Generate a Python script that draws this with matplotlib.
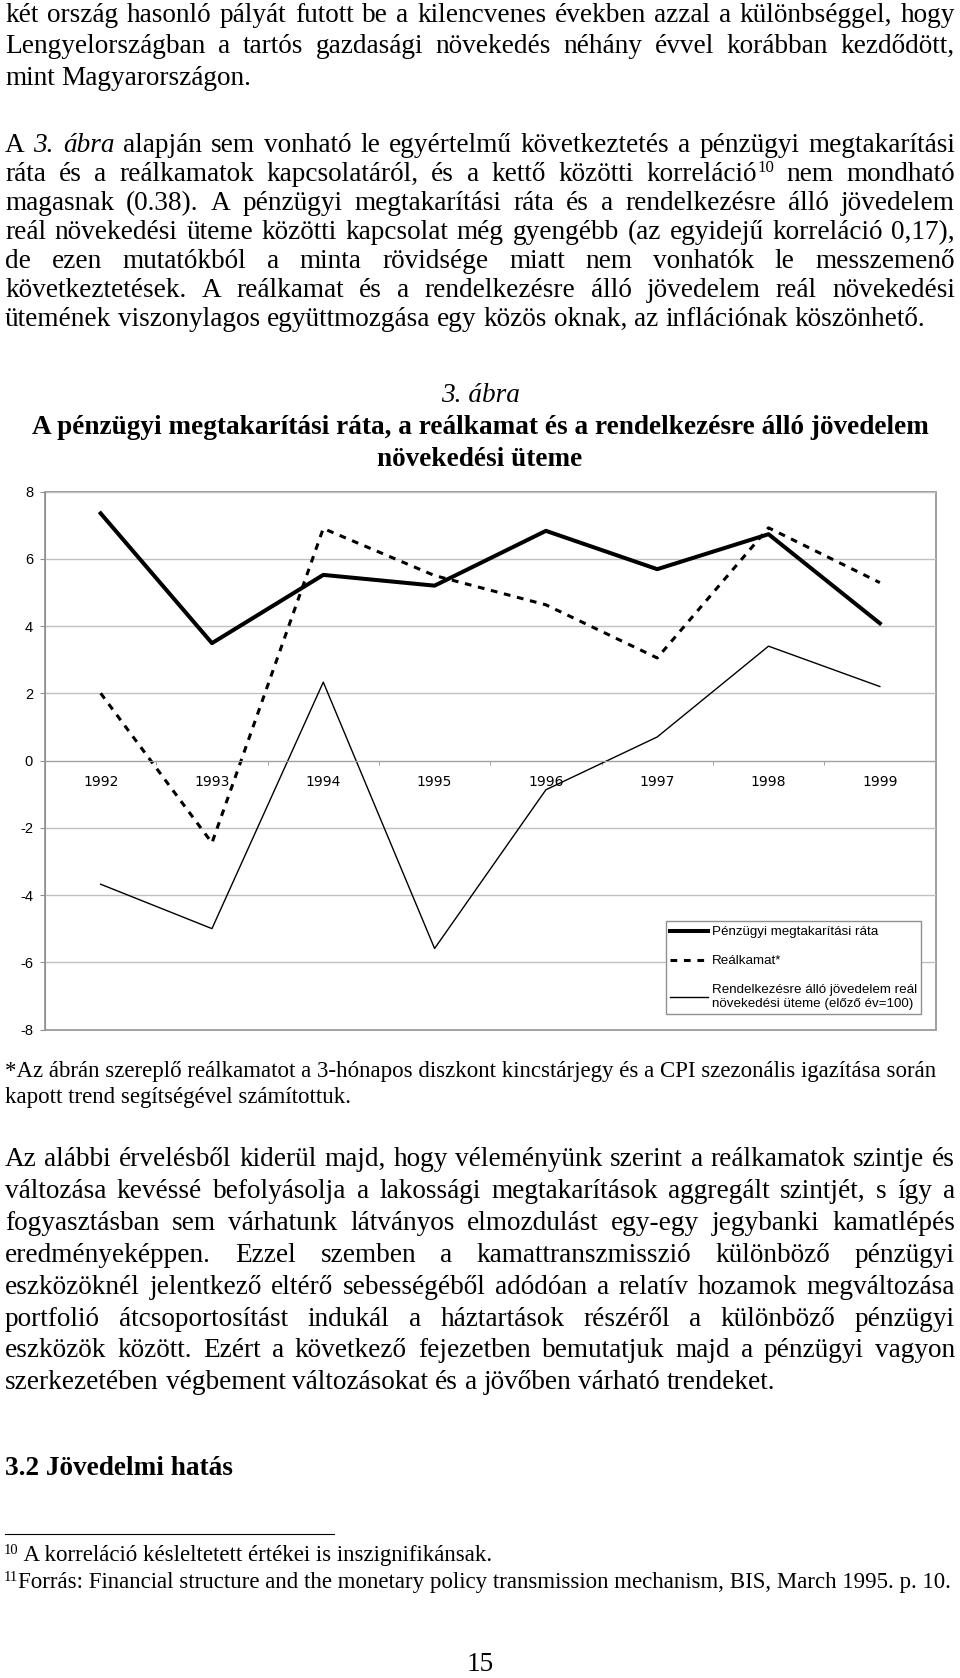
import numpy as np
import matplotlib.pyplot as plt
from matplotlib.lines import Line2D

W, H = 960, 1678
SERIF = 'Liberation Serif'
SANS = 'Liberation Sans'

# chart data
years = ['1992', '1993', '1994', '1995', '1996', '1997', '1998', '1999']
savings_rate = [7.35, 3.49, 5.52, 5.2, 6.83, 5.69, 6.73, 4.08]
real_rate = [2.0, -2.45, 6.9, 5.5, 4.63, 3.05, 6.92, 5.29]
income_growth = [-3.68, -5.0, 2.33, -5.59, -0.87, 0.7, 3.4, 2.2]
series_labels = ['Pénzügyi megtakarítási ráta', 'Reálkamat*',
                 'Rendelkezésre álló jövedelem reál\nnövekedési üteme (előző év=100)']
yticks = [-8, -6, -4, -2, 0, 2, 4, 6, 8]

fig_label = '3. ábra'
fig_title = ['A pénzügyi megtakarítási ráta, a reálkamat és a rendelkezésre álló jövedelem',
             'növekedési üteme']
fig_note = ['*Az ábrán szereplő reálkamatot a 3-hónapos diszkont kincstárjegy és a CPI szezonális igazítása során',
            'kapott trend segítségével számítottuk.']

# page text; ~ marks italic word, ^ marks superscript
para1 = ['két ország hasonló pályát futott be a kilencvenes években azzal a különbséggel, hogy',
         'Lengyelországban a tartós gazdasági növekedés néhány évvel korábban kezdődött,',
         'mint Magyarországon.']
para2 = ['A ~3. ~ábra alapján sem vonható le egyértelmű következtetés a pénzügyi megtakarítási',
         'ráta és a reálkamatok kapcsolatáról, és a kettő közötti korreláció^10 nem mondható',
         'magasnak (0.38). A pénzügyi megtakarítási ráta és a rendelkezésre álló jövedelem',
         'reál növekedési üteme közötti kapcsolat még gyengébb (az egyidejű korreláció 0,17),',
         'de ezen mutatókból a minta rövidsége miatt nem vonhatók le messzemenő',
         'következtetések. A reálkamat és a rendelkezésre álló jövedelem reál növekedési',
         'ütemének viszonylagos együttmozgása egy közös oknak, az inflációnak köszönhető.']
para3 = ['Az alábbi érvelésből kiderül majd, hogy véleményünk szerint a reálkamatok szintje és',
         'változása kevéssé befolyásolja a lakossági megtakarítások aggregált szintjét, s így a',
         'fogyasztásban sem várhatunk látványos elmozdulást egy-egy jegybanki kamatlépés',
         'eredményeképpen. Ezzel szemben a kamattranszmisszió különböző pénzügyi',
         'eszközöknél jelentkező eltérő sebességéből adódóan a relatív hozamok megváltozása',
         'portfolió átcsoportosítást indukál a háztartások részéről a különböző pénzügyi',
         'eszközök között. Ezért a következő fejezetben bemutatjuk majd a pénzügyi vagyon',
         'szerkezetében végbement változásokat és a jövőben várható trendeket.']
heading = '3.2 Jövedelmi hatás'
footnotes = [('10', ' A korreláció késleltetett értékei is inszignifikánsak.'),
             ('11', 'Forrás: Financial structure and the monetary policy transmission mechanism, BIS, March 1995. p. 10.')]
page_no = '15'

fig = plt.figure(figsize=(W / 100, H / 100), dpi=100)
renderer = fig.canvas.get_renderer()


def fx(x):
    return x / W


def fy(y):
    return 1 - y / H


def txt(x, y, s, size, **kw):
    kw.setdefault('family', SERIF)
    return fig.text(fx(x), fy(y), s, fontsize=size, va='baseline', **kw)


def width(t):
    return t.get_window_extent(renderer=renderer).width


def put_line(y, line, size=19.6, x0=5, x1=955, justify=True):
    words = []
    for w in line.split(' '):
        style = 'normal'
        if w.startswith('~'):
            w, style = w[1:], 'italic'
        sup = None
        if '^' in w:
            w, sup = w.split('^')
        runs = [(txt(0, y, w, size, style=style), 0)]
        if sup:
            runs.append((txt(0, y, sup, size * 0.62), size * 0.5))
        words.append(runs)
    wsum = [sum(width(t) for t, _ in r) for r in words]
    sp = txt(0, y, 'n n', size)
    nn = txt(0, y, 'nn', size)
    space = width(sp) - width(nn)
    sp.remove()
    nn.remove()
    gap = (x1 - x0 - sum(wsum)) / (len(words) - 1) if justify else space
    x = x0
    for r, wd in zip(words, wsum):
        xx = x
        for t, rise in r:
            t.set_position((fx(xx), fy(y - rise)))
            xx += width(t)
        x += wd + gap


def put_para(lines, y0, dy, size=19.6):
    for i, line in enumerate(lines):
        put_line(y0 + i * dy, line, size, justify=(i < len(lines) - 1))


put_para(para1, 21.5, 31.7)
put_para(para2, 152.5, 28.9)
put_para(para3, 1166, 31.9)

# figure caption
txt(480, 402, fig_label, 19.6, style='italic', ha='center')
txt(480, 434, fig_title[0], 19.6, weight='bold', ha='center')
txt(480, 466, fig_title[1], 19.6, weight='bold', ha='center')
txt(5, 1077, fig_note[0], 16.5)
txt(5, 1103, fig_note[1], 16.5)

txt(5, 1475, heading, 19.6, weight='bold')
fig.add_artist(Line2D([fx(5), fx(334)], [fy(1534), fy(1534)], color='black', lw=0.8))
for i, (mark, note) in enumerate(footnotes):
    yb = 1561 + i * 27
    m = txt(4, yb - 7, mark, 10.5)
    txt(4 + width(m), yb, note, 16.5)
txt(480, 1671, page_no, 19.6, ha='center')

# chart
ax = fig.add_axes([fx(45), fy(1029.5), 890.5 / W, 538 / H])
x = np.arange(len(years))
l_real, = ax.plot(x, real_rate, color='black', lw=2.2, dashes=(2.2, 2.2))
l_inc, = ax.plot(x, income_growth, color='black', lw=1.0)
l_sav, = ax.plot(x, savings_rate, color='black', lw=2.9)

ax.set_xlim(-0.5, len(years) - 0.5)
ax.set_ylim(-8, 8)
ax.set_yticks(yticks)
ax.set_yticklabels([str(v) for v in yticks], family=SANS, fontsize=10.5)
ax.set_xticks(x)
ax.set_xticklabels(years, family=SANS, fontsize=10)
ax.set_xticks(np.arange(0.5, len(years) - 1, 1), minor=True)
ax.grid(axis='y', color='#c0c0c0', lw=1.0)
ax.set_axisbelow(True)
for s in ['top', 'right']:
    ax.spines[s].set_visible(False)
ax.spines['bottom'].set_position(('data', 0))
ax.spines['bottom'].set_color('#a0a0a0')
ax.spines['left'].set_color('#909090')
ax.patch.set_edgecolor('#909090')
ax.patch.set_linewidth(1.2)
ax.tick_params(axis='y', length=3.6, color='#909090', pad=5)
ax.tick_params(axis='x', which='major', length=0, pad=10.5)
ax.tick_params(axis='x', which='minor', length=3, color='#909090')

ax.legend([l_sav, l_real, l_inc], series_labels, loc='upper left',
          bbox_to_anchor=(0.697, 0.2013), borderaxespad=0, fancybox=False,
          edgecolor='#909090', framealpha=1, prop={'family': SANS, 'size': 9.6},
          handlelength=2.8, handletextpad=0.3, labelspacing=1.25, borderpad=0.35)

fig.savefig('out.png', dpi=100)
